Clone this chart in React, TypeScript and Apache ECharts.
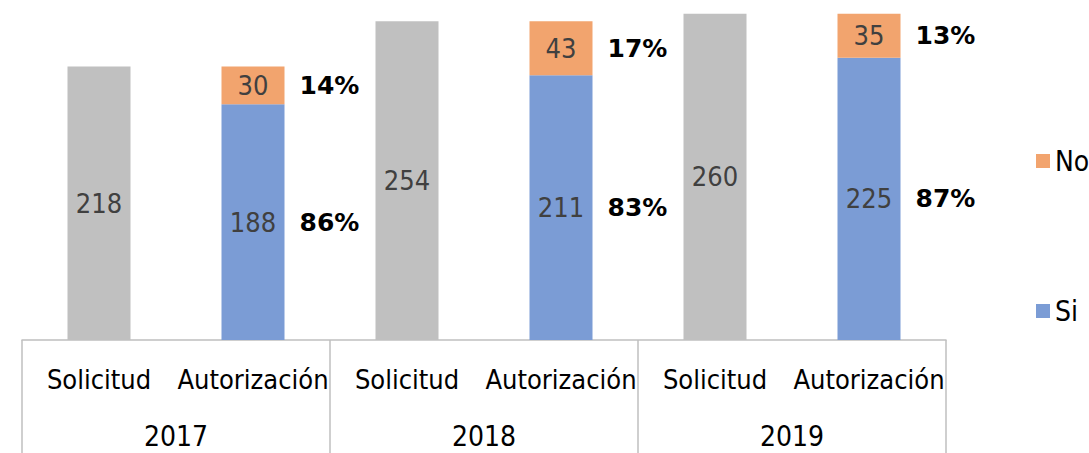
import React, { useEffect, useRef } from "react";
import * as echarts from "echarts";

const categories = ["Solicitud", "Autorización", "Solicitud", "Autorización", "Solicitud", "Autorización"];
const years = ["2017", "2018", "2019"];
const solicitud = [218, 254, 260];
const si = [188, 211, 225];
const no = [30, 43, 35];

const NARROW = '"Liberation Sans Narrow", "DejaVu Sans Condensed", "Roboto Condensed", sans-serif';

export default function App() {
  const ref = useRef<HTMLDivElement>(null);
  useEffect(() => {
    if (!ref.current) return;
    const chart = echarts.init(ref.current, null, { renderer: "svg" });
    const sol6: any[] = [];
    const si6: any[] = [];
    const no6: any[] = [];
    years.forEach((_, i) => {
      sol6.push(solicitud[i], "-");
      si6.push("-", si[i]);
      no6.push("-", no[i]);
    });
    const pct = (v: number, i: number) => Math.round((v / (si[i] + no[i])) * 100) + "%";
    const siPct: any[] = [];
    const noPct: any[] = [];
    years.forEach((_, i) => {
      siPct.push("-", { value: si[i], pctText: pct(si[i], i) });
      noPct.push("-", { value: no[i], pctText: pct(no[i], i) });
    });
    const valueLabel = {
      show: true,
      position: "inside",
      color: "#404040",
      fontFamily: NARROW,
      fontSize: 27,
    };
    const pctLabel = {
      show: true,
      position: "right",
      distance: 15,
      color: "#000",
      fontFamily: '"DejaVu Sans", Verdana, sans-serif',
      fontWeight: "bold",
      fontSize: 25,
      formatter: (p: any) => p.data.pctText,
    };
    chart.setOption({
      animation: false,
      grid: { left: 22, right: 143, top: 0, bottom: 113 },
      legend: {
        data: ["No", "Si"],
        orient: "vertical",
        left: 1031,
        top: 142,
        itemWidth: 14,
        itemHeight: 14,
        itemGap: 122,
        icon: "rect",
        textStyle: { fontFamily: NARROW, fontSize: 28, color: "#000" },
        itemStyle: { borderWidth: 0 },
        selectedMode: false,
      },
      xAxis: [
        {
          type: "category",
          data: categories,
          axisLine: { lineStyle: { color: "#BFBFBF", width: 1.5 } },
          axisTick: { show: false },
          axisLabel: { interval: 0, fontFamily: NARROW, fontSize: 27, color: "#000", margin: 26 },
        },
        {
          type: "category",
          data: years,
          position: "bottom",
          axisLine: { show: false },
          axisTick: { show: true, length: 113, lineStyle: { color: "#BFBFBF", width: 1.5 } },
          axisLabel: { interval: 0, fontFamily: NARROW, fontSize: 28, color: "#000", margin: 82 },
        },
      ],
      yAxis: { type: "value", min: 0, max: 271, show: false, splitLine: { show: false } },
      series: [
        {
          name: "Solicitud",
          type: "bar",
          stack: "a",
          barWidth: 63,
          barGap: "-100%",
          data: sol6,
          itemStyle: { color: "#C0C0C0" },
          label: valueLabel,
        },
        {
          name: "Si",
          type: "bar",
          stack: "a",
          barWidth: 63,
          barGap: "-100%",
          data: si6,
          itemStyle: { color: "#7B9CD5" },
          label: valueLabel,
        },
        {
          name: "No",
          type: "bar",
          stack: "a",
          barWidth: 63,
          barGap: "-100%",
          data: no6,
          itemStyle: { color: "#F2A46E" },
          label: valueLabel,
        },
        {
          name: "SiPct",
          type: "bar",
          stack: "p",
          barWidth: 63,
          barGap: "-100%",
          silent: true,
          data: siPct,
          itemStyle: { color: "rgba(0,0,0,0)" },
          label: pctLabel,
        },
        {
          name: "NoPct",
          type: "bar",
          stack: "p",
          barWidth: 63,
          barGap: "-100%",
          silent: true,
          data: noPct,
          itemStyle: { color: "rgba(0,0,0,0)" },
          label: pctLabel,
        },
      ],
    });
    return () => chart.dispose();
  }, []);
  return (
    <div
      ref={ref}
      style={{ position: "fixed", left: 0, top: 0, width: 1089, height: 453, background: "#fff" }}
    />
  );
}
